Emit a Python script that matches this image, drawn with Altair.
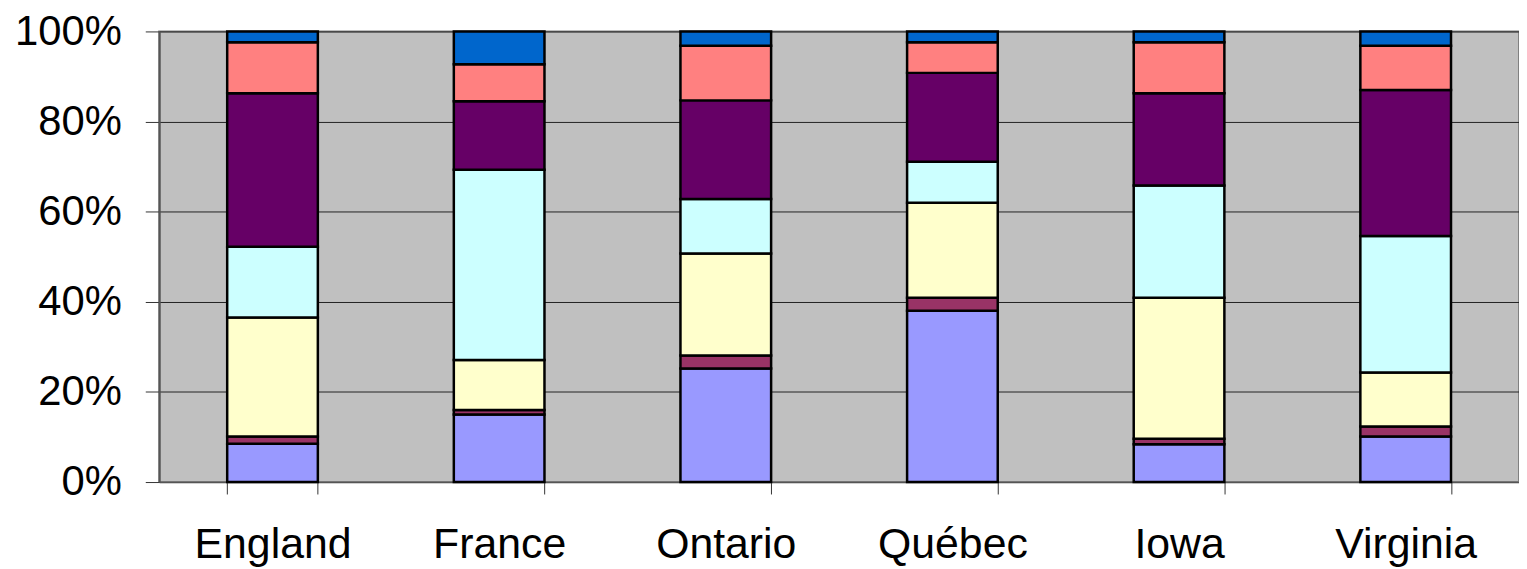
import altair as alt
import pandas as pd

regions = ["England", "France", "Ontario", "Québec", "Iowa", "Virginia"]
series = ["S1", "S2", "S3", "S4", "S5", "S6", "S7"]
colors = ["#9999FF", "#993366", "#FFFFCC", "#CCFFFF", "#660066", "#FF8080", "#0066CC"]

# percentage share of each series (bottom to top) per region
england = [8.5, 1.6, 26.4, 15.7, 34.1, 11.3, 2.4]
france = [15.0, 1.0, 11.1, 42.2, 15.2, 8.2, 7.3]
ontario = [25.2, 2.9, 22.6, 12.1, 21.9, 12.1, 3.2]
quebec = [38.0, 2.9, 21.1, 9.1, 19.7, 6.8, 2.4]
iowa = [8.4, 1.2, 31.3, 24.9, 20.5, 11.3, 2.4]
virginia = [10.1, 2.2, 12.0, 30.3, 32.4, 9.8, 3.2]

values = [england, france, ontario, quebec, iowa, virginia]
rows = []
for r, vals in zip(regions, values):
    for i, (s, v) in enumerate(zip(series, vals)):
        rows.append({"region": r, "series": s, "idx": i, "value": v})
df = pd.DataFrame(rows)

FONT = "Liberation Sans"

bars = alt.Chart(df).mark_bar(stroke="black", strokeWidth=2.5).encode(
    x=alt.X("region:N", sort=regions, title=None,
            scale=alt.Scale(paddingInner=0.6, paddingOuter=0.3),
            axis=alt.Axis(labelAngle=0, labelFontSize=43, labelFont=FONT,
                          labelColor="black", tickBand="extent", tickSize=12,
                          tickColor="#333", domainColor="#555", domainWidth=1.5,
                          labelPadding=30, grid=False)),
    y=alt.Y("value:Q", stack="normalize", title=None,
            scale=alt.Scale(domain=[0, 1]),
            axis=alt.Axis(format=".0%", values=[0, 0.2, 0.4, 0.6, 0.8, 1.0],
                          labelFontSize=42, labelFont=FONT, labelColor="black",
                          labelPadding=24, tickSize=14, tickColor="#333",
                          domainColor="#555", domainWidth=2,
                          grid=True, gridColor="#222", gridWidth=1,
                          gridOpacity=1)),
    color=alt.Color("series:N", scale=alt.Scale(domain=series, range=colors),
                    legend=None),
    order=alt.Order("idx:Q", sort="ascending"),
)

chart = bars.properties(
    width=1367, height=453,
    background="white",
    autosize=alt.AutoSizeParams(type="none"),
    padding={"left": 152, "top": 22, "right": 0, "bottom": 110},
).configure_view(
    fill="#C0C0C0", stroke="#808080", strokeWidth=2
)

chart.save("out.html", embed_options={"renderer": "svg", "actions": False})
